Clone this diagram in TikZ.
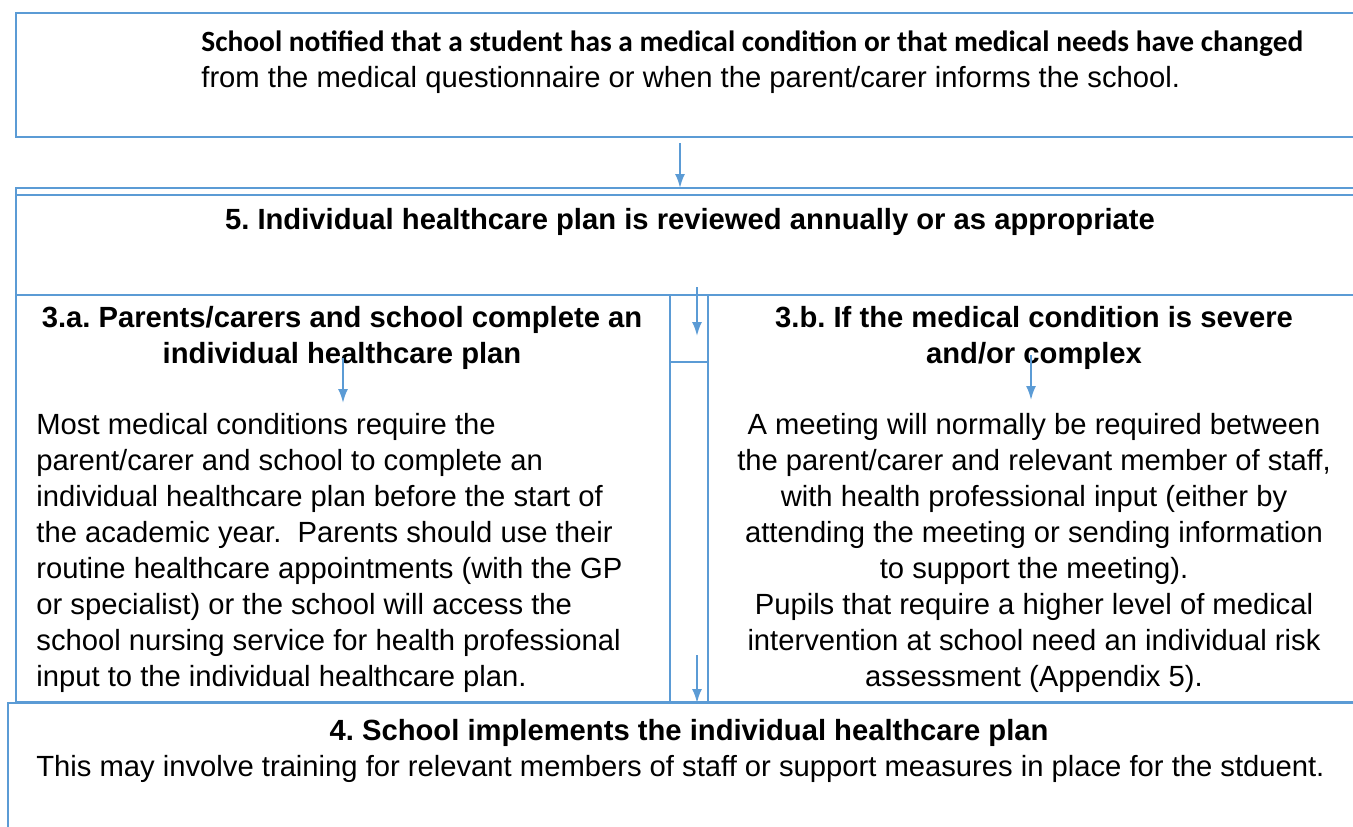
\documentclass[tikz,border=0pt]{standalone}
\usepackage{fontspec}
\setmainfont{Liberation Sans}
\newfontfamily\calib{Carlito}
\usetikzlibrary{arrows.meta,positioning,fit}
\definecolor{boxblue}{RGB}{91,155,213}
\frenchspacing
\begin{document}
\begin{tikzpicture}[
  x=0.5pt, y=-0.5pt,
  >={Latex[length=7pt,width=5pt]},
  every node/.style={font=\fontsize{14.6}{18}\selectfont, inner sep=0pt},
  box/.style={draw=boxblue, line width=1pt, inner sep=0pt},
  head/.style={font=\fontsize{14.6}{18}\selectfont\bfseries, align=center, anchor=north},
  txt/.style={align=left, anchor=north west},
  arr/.style={->, draw=boxblue, line width=1pt}
]
  \useasboundingbox (0,0) rectangle (1353,826);
  \clip (0,0) rectangle (1353,826);
  % boxes
  \node[box, fit={(16,13) (1365,137)}] (notify) {};
  \node[box, fit={(16,188) (1365,295)}] (back) {};
  \node[box, fit={(16,195) (1365,295)}] (review) {};
  \node[box, fit={(16,295) (670,702)}] (plana) {};
  \node[box, fit={(670,295) (708,362)}] (gapt) {};
  \node[box, fit={(670,362) (708,702)}] (gapb) {};
  \node[box, fit={(708,295) (1365,702)}] (planb) {};
  \node[box, fit={(8,703) (1365,840)}] (implement) {};
  % texts
  \node[txt] (notifyt) at (201,30)
    {{\calib\fontsize{14.7}{18}\selectfont\bfseries School notified that a student has a medical condition or that medical needs have changed}\\
     from the medical questionnaire or when the parent/carer informs the school.};
  \node[head] (reviewt) at (690,208)
    {5. Individual healthcare plan is reviewed annually or as appropriate};
  \node[head] (planah) at (342,306)
    {3.a. Parents/carers and school complete an\\ individual healthcare plan};
  \node[txt] (planat) at (36,413)
    {Most medical conditions require the\\
     parent/carer and school to complete an\\
     individual healthcare plan before the start of\\
     the academic year.\ \ Parents should use their\\
     routine healthcare appointments (with the GP\\
     or specialist) or the school will access the\\
     school nursing service for health professional\\
     input to the individual healthcare plan.};
  \node[head] (planbh) at (1034,306)
    {3.b. If the medical condition is severe\\ and/or complex};
  \node[align=center, anchor=north] (planbt) at (1034,413)
    {A meeting will normally be required between\\
     the parent/carer and relevant member of staff,\\
     with health professional input (either by\\
     attending the meeting or sending information\\
     to support the meeting).\\
     Pupils that require a higher level of medical\\
     intervention at school need an individual risk\\
     assessment (Appendix 5).};
  \node[head] (implementh) at (689,719)
    {4. School implements the individual healthcare plan};
  \node[txt] (implementt) at (36,755)
    {This may involve training for relevant members of staff or support measures in place for the stduent.};
  % arrows
  \coordinate (s1) at (680,143); \coordinate (e1) at (680,188);
  \coordinate (s2) at (697,287); \coordinate (e2) at (697,336);
  \coordinate (s3) at (343,358); \coordinate (e3) at (343,403);
  \coordinate (s4) at (1031,355); \coordinate (e4) at (1031,400);
  \coordinate (s5) at (697,655); \coordinate (e5) at (697,703);
  \foreach \i in {1,...,5} \draw[arr] (s\i) -- (e\i);
\end{tikzpicture}
\end{document}
